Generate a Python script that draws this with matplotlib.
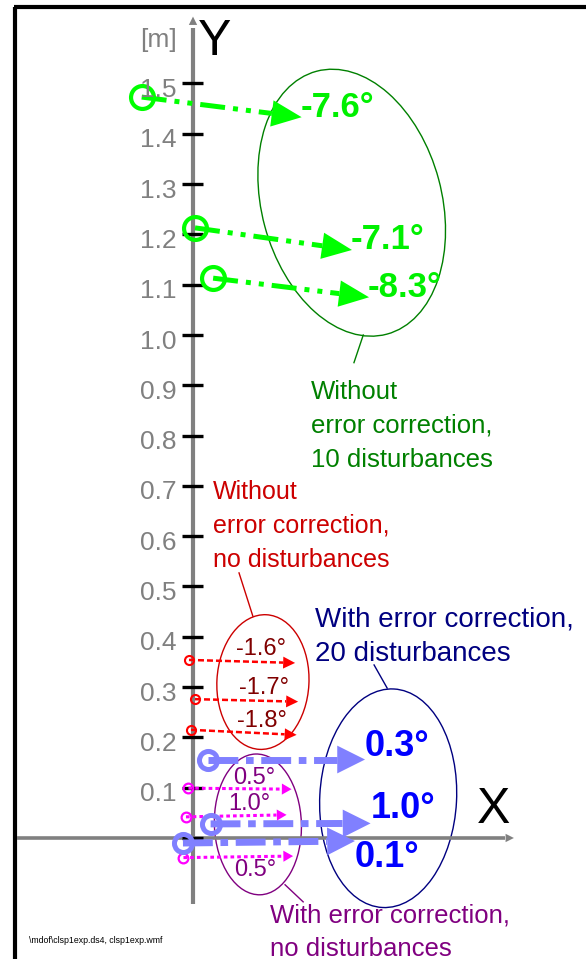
import numpy as np
import matplotlib
matplotlib.use('Agg')
import matplotlib.pyplot as plt
from matplotlib.patches import Ellipse

plt.rcParams['font.family'] = ['Liberation Sans', 'DejaVu Sans']

# Y axis ticks [m]
y_ticks = [0.0, 0.1, 0.2, 0.3, 0.4, 0.5, 0.6, 0.7, 0.8, 0.9, 1.0, 1.1, 1.2, 1.3, 1.4, 1.5]
y_tick_labels = ['', '0.1', '0.2', '0.3', '0.4', '0.5', '0.6', '0.7', '0.8', '0.9',
                 '1.0', '1.1', '1.2', '1.3', '1.4', '1.5']

# Without error correction, 10 disturbances (green)
green_start_x = [-0.102, 0.004, 0.040]
green_start_y = [1.473, 1.213, 1.113]
green_end_x = [0.216, 0.316, 0.350]
green_end_y = [1.433, 1.169, 1.075]
green_angles = ['-7.6°', '-7.1°', '-8.3°']

# Without error correction, no disturbances (red)
red_start_x = [-0.008, 0.004, -0.004]
red_start_y = [0.354, 0.276, 0.215]
red_end_x = [0.203, 0.209, 0.206]
red_end_y = [0.348, 0.271, 0.205]
red_angles = ['-1.6°', '-1.7°', '-1.8°']

# With error correction, no disturbances (magenta)
mag_start_x = [-0.009, -0.014, -0.019]
mag_start_y = [0.099, 0.042, -0.039]
mag_end_x = [0.196, 0.186, 0.199]
mag_end_y = [0.097, 0.046, -0.036]
mag_angles = ['0.5°', '1.0°', '0.5°']

# With error correction, 20 disturbances (blue)
blue_start_x = [0.030, 0.035, -0.020]
blue_start_y = [0.156, 0.028, -0.010]
blue_end_x = [0.342, 0.353, 0.322]
blue_end_y = [0.156, 0.029, -0.006]
blue_angles = ['0.3°', '1.0°', '0.1°']

fig = plt.figure(figsize=(5.86, 9.59), dpi=100)
ax = fig.add_axes([0, 0, 1, 1])
ax.set_xlim(-0.3837, 0.7813)
ax.set_ylim(-0.2406, 1.666)
ax.set_aspect('equal')
ax.axis('off')

gray = '#808080'

# frame
ax.plot([-0.354, -0.354], [-0.25, 1.652], color='black', lw=3, solid_capstyle='butt')
ax.plot([-0.356, 0.79], [1.652, 1.652], color='black', lw=3, solid_capstyle='butt')

# axes
ax.plot([-0.35, 0.62], [0, 0], color=gray, lw=2.6, solid_capstyle='butt')
ax.annotate('', xy=(0.638, 0), xytext=(0.6, 0),
            arrowprops=dict(arrowstyle='-|>,head_length=6,head_width=3', mutation_scale=1,
                            lw=0, fc=gray, shrinkA=0, shrinkB=0))
ax.plot([0, 0], [-0.131, 1.61], color=gray, lw=3, solid_capstyle='butt')
ax.annotate('', xy=(0, 1.633), xytext=(0, 1.6),
            arrowprops=dict(arrowstyle='-|>,head_length=6,head_width=3', mutation_scale=1,
                            lw=0, fc=gray, shrinkA=0, shrinkB=0))

for t, lab in zip(y_ticks, y_tick_labels):
    ax.plot([-0.022, 0.020], [t, t], color='black', lw=2.4, solid_capstyle='butt')
    ax.text(-0.032, t - 0.027, lab, color=gray, fontsize=19, ha='right', va='baseline')

ax.text(0.010, 1.557, 'Y', fontsize=36, ha='left', va='baseline')
ax.text(0.564, 0.030, 'X', fontsize=36, ha='left', va='baseline')
ax.text(-0.032, 1.5735, '[m]', color=gray, fontsize=19, ha='right', va='baseline')


def arrows(sx, sy, ex, ey, color, lw, dashes, ms, mew, hl, hw, hl_data):
    for x0, y0, x1, y1 in zip(sx, sy, ex, ey):
        d = np.array([x1 - x0, y1 - y0])
        d = d / np.hypot(*d)
        bx, by = x1 - d[0] * hl_data, y1 - d[1] * hl_data
        ax.plot([x0, bx], [y0, by], color=color, lw=lw, dashes=dashes)
        ax.plot([x0], [y0], 'o', ms=ms, mfc='none', mec=color, mew=mew)
        ax.annotate('', xy=(x1, y1), xytext=(x0, y0),
                    arrowprops=dict(arrowstyle=f'-|>,head_length={hl},head_width={hw}',
                                    mutation_scale=1, lw=0, fc=color,
                                    shrinkA=0, shrinkB=0))


arrows(green_start_x, green_start_y, green_end_x, green_end_y, '#00ff00', 3.6,
       (5, 1.6, 1, 1.6, 1, 1.6), 16.5, 3, 21.6, 9.5, 0.0596)
arrows(red_start_x, red_start_y, red_end_x, red_end_y, '#ff0000', 1.8,
       (2.4, 1.2), 6.5, 1.5, 8.6, 4.3, 0.024)
arrows(mag_start_x, mag_start_y, mag_end_x, mag_end_y, '#ff00ff', 2.2,
       (1.2, 1), 7, 1.6, 7, 4, 0.02)
arrows(blue_start_x, blue_start_y, blue_end_x, blue_end_y, '#8080ff', 5,
       (4.3, 1.1, 1.1, 1.1), 13, 3.6, 20, 10, 0.0557)

# angle labels
for x, y, lab in zip(green_end_x, green_end_y, green_angles):
    ax.text(x - 0.003, y + 0.02, lab, color='#00f000', fontsize=25, fontweight='bold',
            ha='left', va='center')
for x, y, lab in zip(red_end_x, red_end_y, red_angles):
    ax.text(x - 0.068, y + 0.028, lab, color='#800000', fontsize=17, ha='center', va='center')
for x, y, lab, dy in zip(mag_end_x, mag_end_y, mag_angles, [0.022, 0.022, -0.028]):
    ax.text(x - 0.075, y + dy, lab, color='#800080', fontsize=17, ha='center', va='center')
for x, y, lab, dy in zip(blue_end_x, blue_end_y, blue_angles, [0.026, 0.03, -0.032]):
    ax.text(x, y + dy, lab, color='#0000ff', fontsize=26, fontweight='bold',
            ha='left', va='center')

# ellipses with pointer lines and captions
groups = [
    ((0.3155, 1.263), 0.358, 0.541, 15, '#008000', [(0.3385, 1.0), (0.320, 0.945)],
     (0.2336, 0.8734), ['Without', 'error correction,', '10 disturbances'], 18.5, 0.0676),
    ((0.139, 0.310), 0.183, 0.268, -3, '#cc0000', [(0.119, 0.441), (0.0915, 0.527)],
     (0.0405, 0.674), ['Without', 'error correction,', 'no disturbances'], 18, 0.0676),
    ((0.129, 0.027), 0.173, 0.280, 2, '#800080', [(0.183, -0.093), (0.219, -0.127)],
     (0.153, -0.168), ['With error correction,', 'no disturbances'], 18.5, 0.066),
    ((0.388, 0.079), 0.272, 0.435, -3, '#000080', [(0.386, 0.298), (0.360, 0.344)],
     (0.2425, 0.42), ['With error correction,', '20 disturbances'], 20, 0.0676),
]
for c, w, h, ang, col, pts, tpos, lines, fs, step in groups:
    ax.add_patch(Ellipse(c, w, h, angle=ang, fill=False, ec=col, lw=1))
    ax.plot([pts[0][0], pts[1][0]], [pts[0][1], pts[1][1]], color=col, lw=1)
    for i, line in enumerate(lines):
        ax.text(tpos[0], tpos[1] - i * step, line, color=col, fontsize=fs,
                ha='left', va='baseline')

ax.text(-0.326, -0.209, r'\mdof\clsp1exp.ds4, clsp1exp.wmf', fontsize=6.3, ha='left', va='baseline')

fig.savefig('out.png', dpi=100)
